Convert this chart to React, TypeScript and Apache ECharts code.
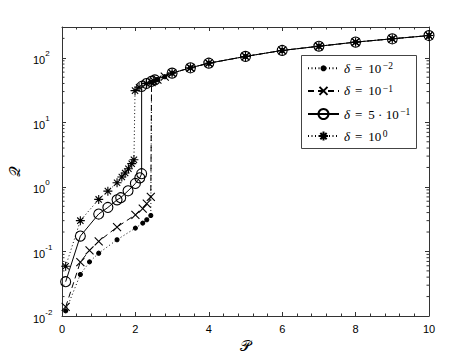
import React, { useEffect, useRef } from 'react';
import * as echarts from 'echarts';

// ---- axis definitions ----
const xTickStep = 2;
const xMin = 0;
const xMax = 10;
const yMin = 0.01;
const yMax = 300;
const yDecades = [0.01, 0.1, 1, 10, 100];
const yMinorMultipliers = [2, 3, 4, 5, 6, 7, 8, 9];

// ---- data (P, Q) ----
const tailP = [3, 3.5, 4, 5, 6, 7, 8, 9, 10];
const tailQ = [57.8, 70, 82.5, 105, 130, 151, 175, 197, 221];

const d1P = [0.1, 0.5, 0.75, 1.0, 1.5, 2.0, 2.2, 2.31, 2.42, 2.44, 2.6, 2.8];
const d1Q = [0.012, 0.044, 0.069, 0.094, 0.152, 0.23, 0.275, 0.31, 0.36, 42, 46, 51];

const d2P = [0.1, 0.5, 0.75, 1.0, 1.5, 2.0, 2.2, 2.31, 2.42, 2.44, 2.6, 2.8];
const d2Q = [0.0138, 0.0686, 0.104, 0.143, 0.239, 0.37, 0.46, 0.55, 0.7, 42, 46, 51];

const d3P = [0.1, 0.5, 1.0, 1.25, 1.5, 1.6, 1.8, 2.0, 2.12, 2.17, 2.17, 2.3, 2.43, 2.53];
const d3Q = [0.034, 0.173, 0.38, 0.48, 0.63, 0.68, 0.87, 1.13, 1.38, 1.6, 36, 40, 43, 45.5];

const d4P = [0.1, 0.5, 1.0, 1.25, 1.5, 1.63, 1.72, 1.81, 1.9, 1.96, 1.99, 2.1, 2.3, 2.5];
const d4Q = [0.059, 0.3, 0.64, 0.86, 1.16, 1.42, 1.64, 1.91, 2.29, 2.63, 31, 35, 40, 44];

const seriesNames = ['delta1', 'delta2', 'delta3', 'delta4'];
const legendLabels = [
  '{i|δ}{eq|=}{n|10}{sup|−2}',
  '{i|δ}{eq|=}{n|10}{sup|−1}',
  '{i|δ}{eq|=}{n|5 · 10}{sup|−1}',
  '{i|δ}{eq|=}{n|10}{sup|0}',
];
const markerSizes = [4, 8, 10, 9];

const ASTERISK = 'path://M5,0L5,10M0,5L10,5M1.5,1.5L8.5,8.5M1.5,8.5L8.5,1.5';
const CROSS = 'path://M0,0L10,10M0,10L10,0';

const toLog = (P: number[], Q: number[]) => P.map((p, i) => [p, Math.log10(Q[i])]);

export default function App() {
  const ref = useRef<HTMLDivElement>(null);
  useEffect(() => {
    if (!ref.current) return;
    const chart = echarts.init(ref.current, null, { renderer: 'svg' });
    const axisColor = '#333';
    const lyMin = Math.log10(yMin);
    const lyMax = Math.log10(yMax);
    const minorVals: number[][] = [];
    yDecades.forEach((d) => {
      yMinorMultipliers.forEach((m) => {
        const v = d * m;
        if (v < yMax) minorVals.push([xMin, Math.log10(v)]);
      });
    });

    const baseX = {
      type: 'value',
      min: xMin,
      max: xMax,
      interval: xTickStep,
      splitLine: { show: false },
      axisLine: { show: true, onZero: false, lineStyle: { color: axisColor, width: 1 } },
      axisTick: { show: true, inside: true, length: 4, lineStyle: { color: axisColor } },
      minorTick: { show: true, splitNumber: 5, length: 2.5, lineStyle: { color: axisColor } },
    };
    const baseY = {
      type: 'value',
      min: lyMin,
      max: lyMax,
      interval: 1,
      splitLine: { show: false },
      axisLine: { show: true, onZero: false, lineStyle: { color: axisColor, width: 1 } },
      axisTick: { show: true, inside: true, length: 4, lineStyle: { color: axisColor } },
    };

    const lineSeries = (
      idx: number,
      data: number[][],
      symbol: string,
      fill: string,
      dash: any
    ) => ({
      type: 'line',
      name: seriesNames[idx],
      data,
      symbol,
      symbolSize: markerSizes[idx],
      symbolKeepAspect: true,
      showSymbol: true,
      lineStyle: { color: '#000', width: 1, type: dash },
      itemStyle: { color: fill, borderColor: '#000', borderWidth: 1.1 },
      emphasis: { disabled: true },
      z: 3 + idx,
    });

    const legendTop = 55;
    const legendLeft = 301;
    const rowCenters = [68.3, 90.9, 113.5, 136.1];
    const legends = seriesNames.map((name, i) => {
      const ih = markerSizes[i] / 0.8;
      return {
        data: [name],
        orient: 'vertical',
        left: legendLeft + 6,
        top: rowCenters[i] - 7,
        itemWidth: 31,
        itemHeight: ih,
        padding: 0,
        selectedMode: false,
        z: 12,
        formatter: () => legendLabels[i],
        textStyle: {
          fontSize: 13,
          color: '#000',
          fontFamily: 'Liberation Serif',
          rich: {
            i: { fontSize: 13, fontStyle: 'italic', fontFamily: 'Liberation Serif', color: '#000', lineHeight: 14 },
            eq: { fontSize: 13, fontFamily: 'Liberation Serif', color: '#000', padding: [0, 6, 0, 5], lineHeight: 14 },
            n: { fontSize: 13, fontFamily: 'Liberation Serif', color: '#000', lineHeight: 14 },
            sup: { fontSize: 9.5, fontFamily: 'Liberation Serif', color: '#000', verticalAlign: 'top', lineHeight: 9, padding: [0, 0, 0, 1.5] },
          },
        },
      };
    });

    chart.setOption({
      animation: false,
      backgroundColor: '#fff',
      grid: { left: 62, right: 45, top: 27, bottom: 39, containLabel: false, outerBoundsMode: 'none' },
      graphic: [
        {
          type: 'rect',
          left: legendLeft,
          top: legendTop,
          shape: { width: 115, height: 93 },
          style: { fill: '#fff', stroke: '#444', lineWidth: 1 },
          z: 11,
        },
      ],
      xAxis: [
        {
          ...baseX,
          position: 'bottom',
          axisLabel: { show: true, margin: 7, fontSize: 11, color: '#000', fontFamily: 'Liberation Sans' },
          name: '𝒫',
          nameLocation: 'middle',
          nameGap: 10,
          nameTextStyle: { fontSize: 15, color: '#000', fontFamily: 'DejaVu Serif' },
        },
        { ...baseX, position: 'top', axisLabel: { show: false } },
      ],
      yAxis: [
        {
          ...baseY,
          position: 'left',
          axisLabel: {
            show: true,
            align: 'left',
            margin: 29,
            formatter: (v: number) => {
              const r = Math.round(v);
              if (Math.abs(v - r) > 1e-6) return '';
              return `{b|10}{s|${r}}`;
            },
            rich: {
              b: { fontSize: 11, color: '#000', fontFamily: 'Liberation Sans', lineHeight: 16, verticalAlign: 'bottom' },
              s: { fontSize: 8, color: '#000', fontFamily: 'Liberation Sans', lineHeight: 16, verticalAlign: 'top' },
            },
          },
          name: '𝒬',
          nameLocation: 'middle',
          nameGap: 28,
          nameTextStyle: { fontSize: 15, color: '#000', fontFamily: 'DejaVu Serif' },
        },
        { ...baseY, position: 'right', axisLabel: { show: false } },
      ],
      legend: legends,
      series: [
        lineSeries(0, toLog(d1P.concat(tailP), d1Q.concat(tailQ)), 'circle', '#000', [1, 2.5]),
        lineSeries(1, toLog(d2P.concat(tailP), d2Q.concat(tailQ)), CROSS, 'none', [6, 4]),
        lineSeries(2, toLog(d3P.concat(tailP), d3Q.concat(tailQ)), 'circle', 'none', 'solid'),
        lineSeries(3, toLog(d4P.concat(tailP), d4Q.concat(tailQ)), ASTERISK, 'none', [1, 2.5]),
        {
          type: 'custom',
          name: 'minorTicks',
          silent: true,
          data: minorVals,
          renderItem: (params: any, api: any) => {
            const y = api.value(1);
            const p0 = api.coord([xMin, y]);
            const p1 = api.coord([xMax, y]);
            const st = { stroke: axisColor, lineWidth: 1 };
            return {
              type: 'group',
              children: [
                { type: 'line', shape: { x1: p0[0], y1: p0[1], x2: p0[0] + 2.5, y2: p0[1] }, style: st },
                { type: 'line', shape: { x1: p1[0] - 2.5, y1: p1[1], x2: p1[0], y2: p1[1] }, style: st },
              ],
            };
          },
          z: 2,
        },
      ],
    });
    return () => chart.dispose();
  }, []);
  return <div ref={ref} style={{ position: 'fixed', left: 0, top: 0, width: 474, height: 355 }} />;
}
